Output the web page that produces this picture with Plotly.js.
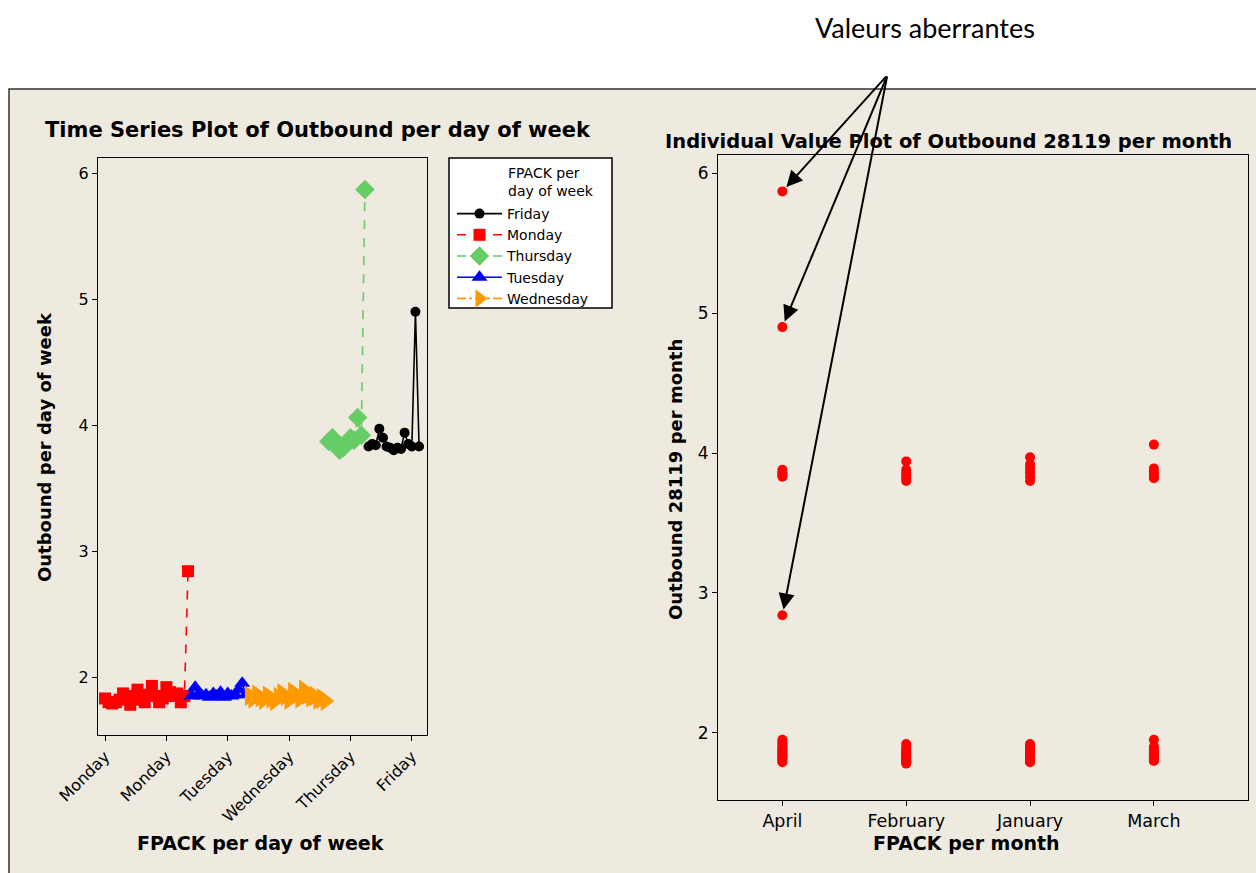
<!DOCTYPE html>
<html>
<head>
<meta charset="utf-8">
<script src="https://cdn.plot.ly/plotly-3.0.1.min.js"></script>
<style>
  html, body { margin: 0; padding: 0; background: #ffffff; }
  #chart { width: 1256px; height: 873px; }
</style>
</head>
<body>
<div id="chart"></div>
<script>
// Outbound values per day of week, in time-series order
const monday = [1.83, 1.80, 1.79, 1.80, 1.82, 1.87, 1.83, 1.78, 1.85, 1.90, 1.82, 1.80,
                1.86, 1.93, 1.85, 1.80, 1.83, 1.92, 1.88, 1.85, 1.87, 1.80, 1.85, 2.84];
const tuesday = [1.85, 1.92, 1.87, 1.85, 1.86, 1.84, 1.87, 1.85, 1.88, 1.84, 1.87, 1.85,
                 1.86, 1.90, 1.95, 1.86];
const wednesday = [1.85, 1.83, 1.86, 1.84, 1.82, 1.85, 1.83, 1.81, 1.84, 1.87, 1.85, 1.82,
                   1.88, 1.86, 1.83, 1.90, 1.86, 1.84, 1.85, 1.82, 1.83, 1.81];
const thursday = [3.87, 3.90, 3.84, 3.80, 3.82, 3.86, 3.90, 3.88, 4.06, 3.92, 5.87];
const friday = [3.83, 3.85, 3.84, 3.97, 3.90, 3.83, 3.82, 3.80, 3.82, 3.81, 3.94, 3.85,
                3.83, 4.90, 3.83];

// Outbound 28119 values per month
const months = ["April", "February", "January", "March"];
const april = [5.87, 4.90, 2.84, 3.88, 3.86, 3.85, 3.84, 3.83,
               1.95, 1.93, 1.92, 1.90, 1.89, 1.88, 1.87, 1.86, 1.85, 1.84, 1.83, 1.82, 1.81, 1.80, 1.79];
const february = [3.94, 3.88, 3.86, 3.84, 3.82, 3.80,
                  1.92, 1.90, 1.88, 1.87, 1.86, 1.85, 1.84, 1.83, 1.82, 1.81, 1.80, 1.80, 1.79, 1.79, 1.78];
const january = [3.97, 3.92, 3.89, 3.86, 3.83, 3.80,
                 1.92, 1.91, 1.90, 1.88, 1.87, 1.86, 1.85, 1.84, 1.83, 1.82, 1.82, 1.81, 1.80, 1.80, 1.80, 1.79];
const march = [4.06, 3.89, 3.87, 3.85, 3.83, 3.82,
               1.95, 1.90, 1.88, 1.87, 1.86, 1.85, 1.84, 1.83, 1.83, 1.82, 1.82, 1.81, 1.81, 1.80, 1.80];

// Time-series axis stamps
const stampIndex = [1, 18, 35, 52, 69, 86];
const stampText = ["Monday", "Monday", "Tuesday", "Wednesday", "Thursday", "Friday"];

const W = 1256, H = 873;
const px = v => v / W;
const py = v => 1 - v / H;
const FONT = "DejaVu Sans";

// Consecutive observation numbers, one series after another
let counter = 0;
function indexFor(values) {
  return values.map(() => ++counter);
}

const daySeries = [
  {name: "Monday", y: monday, color: "#ff0000", symbol: "square", size: 12, dash: "dash", rank: 2},
  {name: "Tuesday", y: tuesday, color: "#0000ff", symbol: "triangle-up", size: 14, dash: "solid", rank: 4},
  {name: "Wednesday", y: wednesday, color: "#ff9900", symbol: "triangle-right", size: 18, dash: "dashdot", rank: 5},
  {name: "Thursday", y: thursday, color: "#66cc66", symbol: "diamond", size: 15, dash: "dash", rank: 3},
  {name: "Friday", y: friday, color: "#000000", symbol: "circle", size: 10, dash: "solid", rank: 1}
];

const traces = daySeries.map(s => ({
  type: "scatter",
  mode: "lines+markers",
  name: s.name,
  x: indexFor(s.y),
  y: s.y,
  xaxis: "x",
  yaxis: "y",
  legendrank: s.rank,
  line: {color: s.color, width: 1.6, dash: s.dash},
  marker: {color: s.color, symbol: s.symbol, size: s.size}
}));

const monthValues = [april, february, january, march];
monthValues.forEach((vals, i) => {
  traces.push({
    type: "scatter",
    mode: "markers",
    showlegend: false,
    x: vals.map(() => months[i]),
    y: vals,
    xaxis: "x2",
    yaxis: "y2",
    marker: {color: "#ff0000", size: 10, symbol: "circle"}
  });
});

const axisCommon = {
  showgrid: false,
  zeroline: false,
  showline: true,
  mirror: true,
  linecolor: "#000000",
  linewidth: 1,
  ticks: "outside",
  ticklen: 5,
  tickwidth: 1,
  tickcolor: "#000000",
  tickfont: {family: FONT, size: 16, color: "#000000"},
  automargin: false
};

const axisTitleFont = {family: FONT, size: 18, color: "#000000", weight: "bold"};
const xTitleFont = {family: FONT, size: 19, color: "#000000", weight: "bold"};

function note(text, x, y, font, extra) {
  return Object.assign({
    text: text, xref: "paper", yref: "paper", x: px(x), y: py(y),
    xanchor: "center", yanchor: "middle", showarrow: false, font: font
  }, extra || {});
}

// Arrows from the "Valeurs aberrantes" label to the April outliers
const outliers = [5.87, 4.90, 2.84];
const arrowTail = {x: 887, y: 75};
const yPix2 = v => 173 + (6 - v) * 140;
const arrows = outliers.map(v => ({
  xref: "x2", yref: "y2", x: 0, y: v, text: "",
  showarrow: true, axref: "pixel", ayref: "pixel",
  ax: arrowTail.x - 782, ay: arrowTail.y - yPix2(v),
  arrowhead: 2, arrowsize: 1.6, arrowwidth: 2, arrowcolor: "#000000", standoff: 6
}));

const layout = {
  width: W,
  height: H,
  margin: {l: 0, r: 0, t: 0, b: 0},
  paper_bgcolor: "#ffffff",
  plot_bgcolor: "#ffffff",
  showlegend: true,
  legend: {
    x: px(452), y: py(198), xanchor: "left", yanchor: "top",
    bgcolor: "rgba(0,0,0,0)", borderwidth: 0,
    font: {family: FONT, size: 14, color: "#000000"},
    itemwidth: 45
  },
  xaxis: Object.assign({}, axisCommon, {
    domain: [px(98), px(427)],
    anchor: "y",
    range: [-0.94, 90.2],
    tickmode: "array",
    tickvals: stampIndex,
    ticktext: stampText,
    tickangle: -45
  }),
  yaxis: Object.assign({}, axisCommon, {
    domain: [py(735), py(158)],
    anchor: "x",
    range: [1.54, 6.12],
    tickmode: "array",
    tickvals: [2, 3, 4, 5, 6]
  }),
  xaxis2: Object.assign({}, axisCommon, {
    domain: [px(718), px(1248)],
    anchor: "y2",
    type: "category",
    categoryorder: "array",
    categoryarray: months,
    range: [-0.52, 3.76],
    tickfont: {family: FONT, size: 17.5, color: "#000000"}
  }),
  yaxis2: Object.assign({}, axisCommon, {
    domain: [py(800), py(155)],
    anchor: "x2",
    range: [1.52, 6.13],
    tickmode: "array",
    tickvals: [2, 3, 4, 5, 6],
    tickfont: {family: FONT, size: 17, color: "#000000"}
  }),
  shapes: [
    // panel behind both graphs
    {type: "rect", xref: "paper", yref: "paper", layer: "below",
     x0: px(9), x1: px(1262), y0: py(880), y1: py(89),
     fillcolor: "#eeeae0", line: {color: "#333333", width: 1.5}},
    // legend frame
    {type: "rect", xref: "paper", yref: "paper", layer: "below",
     x0: px(449), x1: px(612), y0: py(308), y1: py(158),
     fillcolor: "#ffffff", line: {color: "#000000", width: 1.5}}
  ],
  annotations: [
    note("Time Series Plot of Outbound per day of week", 318, 130,
         {family: FONT, size: 21, color: "#000000", weight: "bold"}),
    note("Individual Value Plot of Outbound 28119 per month", 948, 142,
         {family: FONT, size: 19.5, color: "#000000", weight: "bold"}),
    note("FPACK per day of week", 260, 843, xTitleFont),
    note("Outbound per day of week", 45, 447, axisTitleFont, {textangle: -90}),
    note("FPACK per month", 966, 843, xTitleFont),
    note("Outbound 28119 per month", 675, 480, axisTitleFont, {textangle: -90}),
    note("FPACK per<br>day of week", 506, 182,
         {family: FONT, size: 14, color: "#000000"}, {xanchor: "left", align: "left"}),
    note("Valeurs aberrantes", 925, 27, {family: "Lato", size: 27, color: "#000000"})
  ].concat(arrows)
};

Plotly.newPlot("chart", traces, layout, {displayModeBar: false, staticPlot: true});
</script>
</body>
</html>
